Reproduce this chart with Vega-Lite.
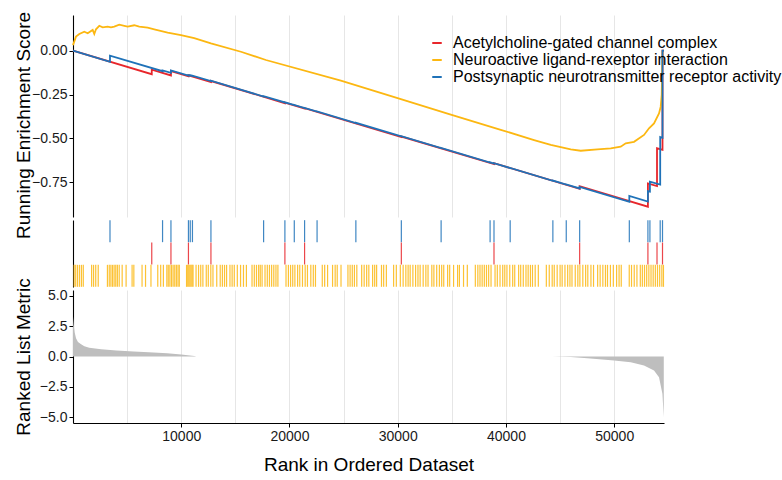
{
  "$schema": "https://vega.github.io/schema/vega-lite/v6.json",
  "padding": {"left": 13, "top": 11, "right": 0, "bottom": 5},
  "bounds": "flush",
  "spacing": 3,
  "config": {
    "view": {"stroke": null},
    "font": "Liberation Sans",
    "axis": {"labelFont": "Liberation Sans", "titleFont": "Liberation Sans", "labelFontSize": 14, "labelColor": "#1a1a1a", "titleFontSize": 19, "titleFontWeight": "normal", "titleColor": "black", "tickSize": 4, "labelPadding": 2, "domainColor": "black", "tickColor": "black", "domainWidth": 1.1}
  },
  "resolve": {"scale": {"color": "independent"}},
  "datasets": {
    "es": [
      {"set": "Acetylcholine-gated channel complex", "i": 1, "rank": 0, "es": 0},
      {"set": "Acetylcholine-gated channel complex", "i": 2, "rank": 7276, "es": -0.134},
      {"set": "Acetylcholine-gated channel complex", "i": 3, "rank": 7276, "es": -0.108},
      {"set": "Acetylcholine-gated channel complex", "i": 4, "rank": 9049, "es": -0.141},
      {"set": "Acetylcholine-gated channel complex", "i": 5, "rank": 9049, "es": -0.116},
      {"set": "Acetylcholine-gated channel complex", "i": 6, "rank": 10665, "es": -0.146},
      {"set": "Acetylcholine-gated channel complex", "i": 7, "rank": 10665, "es": -0.140},
      {"set": "Acetylcholine-gated channel complex", "i": 8, "rank": 12743, "es": -0.178},
      {"set": "Acetylcholine-gated channel complex", "i": 9, "rank": 12743, "es": -0.173},
      {"set": "Acetylcholine-gated channel complex", "i": 10, "rank": 19576, "es": -0.299},
      {"set": "Acetylcholine-gated channel complex", "i": 11, "rank": 19576, "es": -0.296},
      {"set": "Acetylcholine-gated channel complex", "i": 12, "rank": 21395, "es": -0.329},
      {"set": "Acetylcholine-gated channel complex", "i": 13, "rank": 21395, "es": -0.327},
      {"set": "Acetylcholine-gated channel complex", "i": 14, "rank": 30334, "es": -0.492},
      {"set": "Acetylcholine-gated channel complex", "i": 15, "rank": 30334, "es": -0.489},
      {"set": "Acetylcholine-gated channel complex", "i": 16, "rank": 38894, "es": -0.646},
      {"set": "Acetylcholine-gated channel complex", "i": 17, "rank": 38894, "es": -0.641},
      {"set": "Acetylcholine-gated channel complex", "i": 18, "rank": 46807, "es": -0.787},
      {"set": "Acetylcholine-gated channel complex", "i": 19, "rank": 46807, "es": -0.772},
      {"set": "Acetylcholine-gated channel complex", "i": 20, "rank": 53114, "es": -0.889},
      {"set": "Acetylcholine-gated channel complex", "i": 21, "rank": 53114, "es": -0.756},
      {"set": "Acetylcholine-gated channel complex", "i": 22, "rank": 53954, "es": -0.771},
      {"set": "Acetylcholine-gated channel complex", "i": 23, "rank": 53954, "es": -0.556},
      {"set": "Acetylcholine-gated channel complex", "i": 24, "rank": 54462, "es": -0.565},
      {"set": "Acetylcholine-gated channel complex", "i": 25, "rank": 54462, "es": 0.0},
      {"set": "Acetylcholine-gated channel complex", "i": 26, "rank": 54600, "es": 0.0},
      {"set": "Neuroactive ligand-rexeptor interaction", "i": 1, "rank": 0, "es": 0.032},
      {"set": "Neuroactive ligand-rexeptor interaction", "i": 2, "rank": 277, "es": 0.080},
      {"set": "Neuroactive ligand-rexeptor interaction", "i": 3, "rank": 582, "es": 0.095},
      {"set": "Neuroactive ligand-rexeptor interaction", "i": 4, "rank": 1043, "es": 0.108},
      {"set": "Neuroactive ligand-rexeptor interaction", "i": 5, "rank": 1357, "es": 0.099},
      {"set": "Neuroactive ligand-rexeptor interaction", "i": 6, "rank": 1819, "es": 0.118},
      {"set": "Neuroactive ligand-rexeptor interaction", "i": 7, "rank": 1967, "es": 0.095},
      {"set": "Neuroactive ligand-rexeptor interaction", "i": 8, "rank": 2124, "es": 0.122},
      {"set": "Neuroactive ligand-rexeptor interaction", "i": 9, "rank": 2429, "es": 0.142},
      {"set": "Neuroactive ligand-rexeptor interaction", "i": 10, "rank": 2742, "es": 0.133},
      {"set": "Neuroactive ligand-rexeptor interaction", "i": 11, "rank": 3204, "es": 0.137},
      {"set": "Neuroactive ligand-rexeptor interaction", "i": 12, "rank": 3509, "es": 0.133},
      {"set": "Neuroactive ligand-rexeptor interaction", "i": 13, "rank": 3814, "es": 0.137},
      {"set": "Neuroactive ligand-rexeptor interaction", "i": 14, "rank": 4275, "es": 0.148},
      {"set": "Neuroactive ligand-rexeptor interaction", "i": 15, "rank": 4737, "es": 0.142},
      {"set": "Neuroactive ligand-rexeptor interaction", "i": 16, "rank": 5051, "es": 0.137},
      {"set": "Neuroactive ligand-rexeptor interaction", "i": 17, "rank": 5660, "es": 0.145},
      {"set": "Neuroactive ligand-rexeptor interaction", "i": 18, "rank": 6122, "es": 0.137},
      {"set": "Neuroactive ligand-rexeptor interaction", "i": 19, "rank": 6898, "es": 0.131},
      {"set": "Neuroactive ligand-rexeptor interaction", "i": 20, "rank": 7507, "es": 0.122},
      {"set": "Neuroactive ligand-rexeptor interaction", "i": 21, "rank": 8745, "es": 0.103},
      {"set": "Neuroactive ligand-rexeptor interaction", "i": 22, "rank": 9973, "es": 0.089},
      {"set": "Neuroactive ligand-rexeptor interaction", "i": 23, "rank": 11201, "es": 0.071},
      {"set": "Neuroactive ligand-rexeptor interaction", "i": 24, "rank": 12743, "es": 0.042},
      {"set": "Neuroactive ligand-rexeptor interaction", "i": 25, "rank": 15513, "es": -0.006},
      {"set": "Neuroactive ligand-rexeptor interaction", "i": 26, "rank": 17822, "es": -0.053},
      {"set": "Neuroactive ligand-rexeptor interaction", "i": 27, "rank": 24747, "es": -0.171},
      {"set": "Neuroactive ligand-rexeptor interaction", "i": 28, "rank": 30288, "es": -0.276},
      {"set": "Neuroactive ligand-rexeptor interaction", "i": 29, "rank": 34904, "es": -0.364},
      {"set": "Neuroactive ligand-rexeptor interaction", "i": 30, "rank": 39520, "es": -0.451},
      {"set": "Neuroactive ligand-rexeptor interaction", "i": 31, "rank": 42597, "es": -0.509},
      {"set": "Neuroactive ligand-rexeptor interaction", "i": 32, "rank": 44139, "es": -0.537},
      {"set": "Neuroactive ligand-rexeptor interaction", "i": 33, "rank": 45985, "es": -0.562},
      {"set": "Neuroactive ligand-rexeptor interaction", "i": 34, "rank": 46909, "es": -0.570},
      {"set": "Neuroactive ligand-rexeptor interaction", "i": 35, "rank": 48450, "es": -0.562},
      {"set": "Neuroactive ligand-rexeptor interaction", "i": 36, "rank": 49679, "es": -0.556},
      {"set": "Neuroactive ligand-rexeptor interaction", "i": 37, "rank": 50602, "es": -0.547},
      {"set": "Neuroactive ligand-rexeptor interaction", "i": 38, "rank": 51064, "es": -0.528},
      {"set": "Neuroactive ligand-rexeptor interaction", "i": 39, "rank": 51830, "es": -0.519},
      {"set": "Neuroactive ligand-rexeptor interaction", "i": 40, "rank": 52754, "es": -0.480},
      {"set": "Neuroactive ligand-rexeptor interaction", "i": 41, "rank": 53216, "es": -0.442},
      {"set": "Neuroactive ligand-rexeptor interaction", "i": 42, "rank": 53677, "es": -0.414},
      {"set": "Neuroactive ligand-rexeptor interaction", "i": 43, "rank": 54139, "es": -0.357},
      {"set": "Neuroactive ligand-rexeptor interaction", "i": 44, "rank": 54296, "es": -0.319},
      {"set": "Neuroactive ligand-rexeptor interaction", "i": 45, "rank": 54389, "es": -0.252},
      {"set": "Neuroactive ligand-rexeptor interaction", "i": 46, "rank": 54462, "es": 0.0},
      {"set": "Postsynaptic neurotransmitter receptor activity", "i": 1, "rank": 0, "es": 0},
      {"set": "Postsynaptic neurotransmitter receptor activity", "i": 2, "rank": 3417, "es": -0.063},
      {"set": "Postsynaptic neurotransmitter receptor activity", "i": 3, "rank": 3417, "es": -0.028},
      {"set": "Postsynaptic neurotransmitter receptor activity", "i": 4, "rank": 8274, "es": -0.117},
      {"set": "Postsynaptic neurotransmitter receptor activity", "i": 5, "rank": 8274, "es": -0.112},
      {"set": "Postsynaptic neurotransmitter receptor activity", "i": 6, "rank": 9049, "es": -0.126},
      {"set": "Postsynaptic neurotransmitter receptor activity", "i": 7, "rank": 9049, "es": -0.112},
      {"set": "Postsynaptic neurotransmitter receptor activity", "i": 8, "rank": 10665, "es": -0.142},
      {"set": "Postsynaptic neurotransmitter receptor activity", "i": 9, "rank": 10665, "es": -0.139},
      {"set": "Postsynaptic neurotransmitter receptor activity", "i": 10, "rank": 10832, "es": -0.142},
      {"set": "Postsynaptic neurotransmitter receptor activity", "i": 11, "rank": 10832, "es": -0.140},
      {"set": "Postsynaptic neurotransmitter receptor activity", "i": 12, "rank": 11035, "es": -0.144},
      {"set": "Postsynaptic neurotransmitter receptor activity", "i": 13, "rank": 11035, "es": -0.142},
      {"set": "Postsynaptic neurotransmitter receptor activity", "i": 14, "rank": 12743, "es": -0.173},
      {"set": "Postsynaptic neurotransmitter receptor activity", "i": 15, "rank": 12743, "es": -0.171},
      {"set": "Postsynaptic neurotransmitter receptor activity", "i": 16, "rank": 17609, "es": -0.261},
      {"set": "Postsynaptic neurotransmitter receptor activity", "i": 17, "rank": 17609, "es": -0.259},
      {"set": "Postsynaptic neurotransmitter receptor activity", "i": 18, "rank": 19576, "es": -0.295},
      {"set": "Postsynaptic neurotransmitter receptor activity", "i": 19, "rank": 19576, "es": -0.294},
      {"set": "Postsynaptic neurotransmitter receptor activity", "i": 20, "rank": 20444, "es": -0.310},
      {"set": "Postsynaptic neurotransmitter receptor activity", "i": 21, "rank": 20444, "es": -0.309},
      {"set": "Postsynaptic neurotransmitter receptor activity", "i": 22, "rank": 21395, "es": -0.327},
      {"set": "Postsynaptic neurotransmitter receptor activity", "i": 23, "rank": 21395, "es": -0.326},
      {"set": "Postsynaptic neurotransmitter receptor activity", "i": 24, "rank": 22549, "es": -0.347},
      {"set": "Postsynaptic neurotransmitter receptor activity", "i": 25, "rank": 22549, "es": -0.346},
      {"set": "Postsynaptic neurotransmitter receptor activity", "i": 26, "rank": 26132, "es": -0.412},
      {"set": "Postsynaptic neurotransmitter receptor activity", "i": 27, "rank": 26132, "es": -0.411},
      {"set": "Postsynaptic neurotransmitter receptor activity", "i": 28, "rank": 30334, "es": -0.488},
      {"set": "Postsynaptic neurotransmitter receptor activity", "i": 29, "rank": 30334, "es": -0.487},
      {"set": "Postsynaptic neurotransmitter receptor activity", "i": 30, "rank": 34009, "es": -0.555},
      {"set": "Postsynaptic neurotransmitter receptor activity", "i": 31, "rank": 34009, "es": -0.554},
      {"set": "Postsynaptic neurotransmitter receptor activity", "i": 32, "rank": 38533, "es": -0.637},
      {"set": "Postsynaptic neurotransmitter receptor activity", "i": 33, "rank": 38533, "es": -0.636},
      {"set": "Postsynaptic neurotransmitter receptor activity", "i": 34, "rank": 38894, "es": -0.643},
      {"set": "Postsynaptic neurotransmitter receptor activity", "i": 35, "rank": 38894, "es": -0.641},
      {"set": "Postsynaptic neurotransmitter receptor activity", "i": 36, "rank": 40389, "es": -0.669},
      {"set": "Postsynaptic neurotransmitter receptor activity", "i": 37, "rank": 40389, "es": -0.668},
      {"set": "Postsynaptic neurotransmitter receptor activity", "i": 38, "rank": 44333, "es": -0.741},
      {"set": "Postsynaptic neurotransmitter receptor activity", "i": 39, "rank": 44333, "es": -0.740},
      {"set": "Postsynaptic neurotransmitter receptor activity", "i": 40, "rank": 45570, "es": -0.763},
      {"set": "Postsynaptic neurotransmitter receptor activity", "i": 41, "rank": 45570, "es": -0.762},
      {"set": "Postsynaptic neurotransmitter receptor activity", "i": 42, "rank": 46807, "es": -0.785},
      {"set": "Postsynaptic neurotransmitter receptor activity", "i": 43, "rank": 46807, "es": -0.776},
      {"set": "Postsynaptic neurotransmitter receptor activity", "i": 44, "rank": 51396, "es": -0.861},
      {"set": "Postsynaptic neurotransmitter receptor activity", "i": 45, "rank": 51396, "es": -0.828},
      {"set": "Postsynaptic neurotransmitter receptor activity", "i": 46, "rank": 53114, "es": -0.860},
      {"set": "Postsynaptic neurotransmitter receptor activity", "i": 47, "rank": 53114, "es": -0.800},
      {"set": "Postsynaptic neurotransmitter receptor activity", "i": 48, "rank": 53299, "es": -0.803},
      {"set": "Postsynaptic neurotransmitter receptor activity", "i": 49, "rank": 53299, "es": -0.746},
      {"set": "Postsynaptic neurotransmitter receptor activity", "i": 50, "rank": 54249, "es": -0.763},
      {"set": "Postsynaptic neurotransmitter receptor activity", "i": 51, "rank": 54249, "es": -0.492},
      {"set": "Postsynaptic neurotransmitter receptor activity", "i": 52, "rank": 54462, "es": -0.496},
      {"set": "Postsynaptic neurotransmitter receptor activity", "i": 53, "rank": 54462, "es": 0.0},
      {"set": "Postsynaptic neurotransmitter receptor activity", "i": 54, "rank": 54600, "es": 0.0}
    ],
    "hits": [
      {"set": "Postsynaptic neurotransmitter receptor activity", "rank": 3417},
      {"set": "Postsynaptic neurotransmitter receptor activity", "rank": 8274},
      {"set": "Postsynaptic neurotransmitter receptor activity", "rank": 9049},
      {"set": "Postsynaptic neurotransmitter receptor activity", "rank": 10665},
      {"set": "Postsynaptic neurotransmitter receptor activity", "rank": 10832},
      {"set": "Postsynaptic neurotransmitter receptor activity", "rank": 11035},
      {"set": "Postsynaptic neurotransmitter receptor activity", "rank": 12743},
      {"set": "Postsynaptic neurotransmitter receptor activity", "rank": 17609},
      {"set": "Postsynaptic neurotransmitter receptor activity", "rank": 19576},
      {"set": "Postsynaptic neurotransmitter receptor activity", "rank": 20444},
      {"set": "Postsynaptic neurotransmitter receptor activity", "rank": 21395},
      {"set": "Postsynaptic neurotransmitter receptor activity", "rank": 22549},
      {"set": "Postsynaptic neurotransmitter receptor activity", "rank": 26132},
      {"set": "Postsynaptic neurotransmitter receptor activity", "rank": 30334},
      {"set": "Postsynaptic neurotransmitter receptor activity", "rank": 34009},
      {"set": "Postsynaptic neurotransmitter receptor activity", "rank": 38533},
      {"set": "Postsynaptic neurotransmitter receptor activity", "rank": 38894},
      {"set": "Postsynaptic neurotransmitter receptor activity", "rank": 40389},
      {"set": "Postsynaptic neurotransmitter receptor activity", "rank": 44333},
      {"set": "Postsynaptic neurotransmitter receptor activity", "rank": 45570},
      {"set": "Postsynaptic neurotransmitter receptor activity", "rank": 46807},
      {"set": "Postsynaptic neurotransmitter receptor activity", "rank": 51396},
      {"set": "Postsynaptic neurotransmitter receptor activity", "rank": 53114},
      {"set": "Postsynaptic neurotransmitter receptor activity", "rank": 53299},
      {"set": "Postsynaptic neurotransmitter receptor activity", "rank": 54249},
      {"set": "Postsynaptic neurotransmitter receptor activity", "rank": 54462},
      {"set": "Acetylcholine-gated channel complex", "rank": 7276},
      {"set": "Acetylcholine-gated channel complex", "rank": 9049},
      {"set": "Acetylcholine-gated channel complex", "rank": 10665},
      {"set": "Acetylcholine-gated channel complex", "rank": 12743},
      {"set": "Acetylcholine-gated channel complex", "rank": 19576},
      {"set": "Acetylcholine-gated channel complex", "rank": 21395},
      {"set": "Acetylcholine-gated channel complex", "rank": 30334},
      {"set": "Acetylcholine-gated channel complex", "rank": 38894},
      {"set": "Acetylcholine-gated channel complex", "rank": 46807},
      {"set": "Acetylcholine-gated channel complex", "rank": 53114},
      {"set": "Acetylcholine-gated channel complex", "rank": 53954},
      {"set": "Acetylcholine-gated channel complex", "rank": 54462},
      {"set": "Neuroactive ligand-rexeptor interaction", "rank": 100},
      {"set": "Neuroactive ligand-rexeptor interaction", "rank": 250},
      {"set": "Neuroactive ligand-rexeptor interaction", "rank": 420},
      {"set": "Neuroactive ligand-rexeptor interaction", "rank": 600},
      {"set": "Neuroactive ligand-rexeptor interaction", "rank": 780},
      {"set": "Neuroactive ligand-rexeptor interaction", "rank": 950},
      {"set": "Neuroactive ligand-rexeptor interaction", "rank": 1720},
      {"set": "Neuroactive ligand-rexeptor interaction", "rank": 1900},
      {"set": "Neuroactive ligand-rexeptor interaction", "rank": 2100},
      {"set": "Neuroactive ligand-rexeptor interaction", "rank": 2330},
      {"set": "Neuroactive ligand-rexeptor interaction", "rank": 3180},
      {"set": "Neuroactive ligand-rexeptor interaction", "rank": 3350},
      {"set": "Neuroactive ligand-rexeptor interaction", "rank": 3500},
      {"set": "Neuroactive ligand-rexeptor interaction", "rank": 3650},
      {"set": "Neuroactive ligand-rexeptor interaction", "rank": 3800},
      {"set": "Neuroactive ligand-rexeptor interaction", "rank": 3950},
      {"set": "Neuroactive ligand-rexeptor interaction", "rank": 4100},
      {"set": "Neuroactive ligand-rexeptor interaction", "rank": 4270},
      {"set": "Neuroactive ligand-rexeptor interaction", "rank": 4542},
      {"set": "Neuroactive ligand-rexeptor interaction", "rank": 4906},
      {"set": "Neuroactive ligand-rexeptor interaction", "rank": 5460},
      {"set": "Neuroactive ligand-rexeptor interaction", "rank": 5620},
      {"set": "Neuroactive ligand-rexeptor interaction", "rank": 6380},
      {"set": "Neuroactive ligand-rexeptor interaction", "rank": 6700},
      {"set": "Neuroactive ligand-rexeptor interaction", "rank": 7203},
      {"set": "Neuroactive ligand-rexeptor interaction", "rank": 7830},
      {"set": "Neuroactive ligand-rexeptor interaction", "rank": 8100},
      {"set": "Neuroactive ligand-rexeptor interaction", "rank": 8350},
      {"set": "Neuroactive ligand-rexeptor interaction", "rank": 8670},
      {"set": "Neuroactive ligand-rexeptor interaction", "rank": 8800},
      {"set": "Neuroactive ligand-rexeptor interaction", "rank": 8950},
      {"set": "Neuroactive ligand-rexeptor interaction", "rank": 9100},
      {"set": "Neuroactive ligand-rexeptor interaction", "rank": 9250},
      {"set": "Neuroactive ligand-rexeptor interaction", "rank": 9400},
      {"set": "Neuroactive ligand-rexeptor interaction", "rank": 9550},
      {"set": "Neuroactive ligand-rexeptor interaction", "rank": 9700},
      {"set": "Neuroactive ligand-rexeptor interaction", "rank": 9820},
      {"set": "Neuroactive ligand-rexeptor interaction", "rank": 10490},
      {"set": "Neuroactive ligand-rexeptor interaction", "rank": 10600},
      {"set": "Neuroactive ligand-rexeptor interaction", "rank": 10700},
      {"set": "Neuroactive ligand-rexeptor interaction", "rank": 10800},
      {"set": "Neuroactive ligand-rexeptor interaction", "rank": 10900},
      {"set": "Neuroactive ligand-rexeptor interaction", "rank": 11000},
      {"set": "Neuroactive ligand-rexeptor interaction", "rank": 11090},
      {"set": "Neuroactive ligand-rexeptor interaction", "rank": 11370},
      {"set": "Neuroactive ligand-rexeptor interaction", "rank": 11600},
      {"set": "Neuroactive ligand-rexeptor interaction", "rank": 11800},
      {"set": "Neuroactive ligand-rexeptor interaction", "rank": 12000},
      {"set": "Neuroactive ligand-rexeptor interaction", "rank": 12310},
      {"set": "Neuroactive ligand-rexeptor interaction", "rank": 12500},
      {"set": "Neuroactive ligand-rexeptor interaction", "rank": 12730},
      {"set": "Neuroactive ligand-rexeptor interaction", "rank": 12930},
      {"set": "Neuroactive ligand-rexeptor interaction", "rank": 13280},
      {"set": "Neuroactive ligand-rexeptor interaction", "rank": 13600},
      {"set": "Neuroactive ligand-rexeptor interaction", "rank": 13800},
      {"set": "Neuroactive ligand-rexeptor interaction", "rank": 14000},
      {"set": "Neuroactive ligand-rexeptor interaction", "rank": 14190},
      {"set": "Neuroactive ligand-rexeptor interaction", "rank": 14500},
      {"set": "Neuroactive ligand-rexeptor interaction", "rank": 14700},
      {"set": "Neuroactive ligand-rexeptor interaction", "rank": 14900},
      {"set": "Neuroactive ligand-rexeptor interaction", "rank": 15180},
      {"set": "Neuroactive ligand-rexeptor interaction", "rank": 15480},
      {"set": "Neuroactive ligand-rexeptor interaction", "rank": 15750},
      {"set": "Neuroactive ligand-rexeptor interaction", "rank": 16020},
      {"set": "Neuroactive ligand-rexeptor interaction", "rank": 16540},
      {"set": "Neuroactive ligand-rexeptor interaction", "rank": 16750},
      {"set": "Neuroactive ligand-rexeptor interaction", "rank": 16950},
      {"set": "Neuroactive ligand-rexeptor interaction", "rank": 17150},
      {"set": "Neuroactive ligand-rexeptor interaction", "rank": 17300},
      {"set": "Neuroactive ligand-rexeptor interaction", "rank": 17470},
      {"set": "Neuroactive ligand-rexeptor interaction", "rank": 17740},
      {"set": "Neuroactive ligand-rexeptor interaction", "rank": 17950},
      {"set": "Neuroactive ligand-rexeptor interaction", "rank": 18150},
      {"set": "Neuroactive ligand-rexeptor interaction", "rank": 18350},
      {"set": "Neuroactive ligand-rexeptor interaction", "rank": 18550},
      {"set": "Neuroactive ligand-rexeptor interaction", "rank": 18750},
      {"set": "Neuroactive ligand-rexeptor interaction", "rank": 18930},
      {"set": "Neuroactive ligand-rexeptor interaction", "rank": 19680},
      {"set": "Neuroactive ligand-rexeptor interaction", "rank": 19900},
      {"set": "Neuroactive ligand-rexeptor interaction", "rank": 20100},
      {"set": "Neuroactive ligand-rexeptor interaction", "rank": 20300},
      {"set": "Neuroactive ligand-rexeptor interaction", "rank": 20500},
      {"set": "Neuroactive ligand-rexeptor interaction", "rank": 20750},
      {"set": "Neuroactive ligand-rexeptor interaction", "rank": 20950},
      {"set": "Neuroactive ligand-rexeptor interaction", "rank": 21200},
      {"set": "Neuroactive ligand-rexeptor interaction", "rank": 21450},
      {"set": "Neuroactive ligand-rexeptor interaction", "rank": 21660},
      {"set": "Neuroactive ligand-rexeptor interaction", "rank": 21970},
      {"set": "Neuroactive ligand-rexeptor interaction", "rank": 22200},
      {"set": "Neuroactive ligand-rexeptor interaction", "rank": 22400},
      {"set": "Neuroactive ligand-rexeptor interaction", "rank": 23030},
      {"set": "Neuroactive ligand-rexeptor interaction", "rank": 23250},
      {"set": "Neuroactive ligand-rexeptor interaction", "rank": 23520},
      {"set": "Neuroactive ligand-rexeptor interaction", "rank": 23980},
      {"set": "Neuroactive ligand-rexeptor interaction", "rank": 24220},
      {"set": "Neuroactive ligand-rexeptor interaction", "rank": 24410},
      {"set": "Neuroactive ligand-rexeptor interaction", "rank": 24760},
      {"set": "Neuroactive ligand-rexeptor interaction", "rank": 25400},
      {"set": "Neuroactive ligand-rexeptor interaction", "rank": 25600},
      {"set": "Neuroactive ligand-rexeptor interaction", "rank": 25800},
      {"set": "Neuroactive ligand-rexeptor interaction", "rank": 26000},
      {"set": "Neuroactive ligand-rexeptor interaction", "rank": 26220},
      {"set": "Neuroactive ligand-rexeptor interaction", "rank": 26670},
      {"set": "Neuroactive ligand-rexeptor interaction", "rank": 26900},
      {"set": "Neuroactive ligand-rexeptor interaction", "rank": 27130},
      {"set": "Neuroactive ligand-rexeptor interaction", "rank": 27330},
      {"set": "Neuroactive ligand-rexeptor interaction", "rank": 27680},
      {"set": "Neuroactive ligand-rexeptor interaction", "rank": 27870},
      {"set": "Neuroactive ligand-rexeptor interaction", "rank": 28050},
      {"set": "Neuroactive ligand-rexeptor interaction", "rank": 28500},
      {"set": "Neuroactive ligand-rexeptor interaction", "rank": 28700},
      {"set": "Neuroactive ligand-rexeptor interaction", "rank": 28950},
      {"set": "Neuroactive ligand-rexeptor interaction", "rank": 29620},
      {"set": "Neuroactive ligand-rexeptor interaction", "rank": 29870},
      {"set": "Neuroactive ligand-rexeptor interaction", "rank": 30240},
      {"set": "Neuroactive ligand-rexeptor interaction", "rank": 30500},
      {"set": "Neuroactive ligand-rexeptor interaction", "rank": 30750},
      {"set": "Neuroactive ligand-rexeptor interaction", "rank": 30960},
      {"set": "Neuroactive ligand-rexeptor interaction", "rank": 31150},
      {"set": "Neuroactive ligand-rexeptor interaction", "rank": 31400},
      {"set": "Neuroactive ligand-rexeptor interaction", "rank": 31650},
      {"set": "Neuroactive ligand-rexeptor interaction", "rank": 31870},
      {"set": "Neuroactive ligand-rexeptor interaction", "rank": 32070},
      {"set": "Neuroactive ligand-rexeptor interaction", "rank": 32350},
      {"set": "Neuroactive ligand-rexeptor interaction", "rank": 32600},
      {"set": "Neuroactive ligand-rexeptor interaction", "rank": 32800},
      {"set": "Neuroactive ligand-rexeptor interaction", "rank": 33150},
      {"set": "Neuroactive ligand-rexeptor interaction", "rank": 33340},
      {"set": "Neuroactive ligand-rexeptor interaction", "rank": 33600},
      {"set": "Neuroactive ligand-rexeptor interaction", "rank": 33850},
      {"set": "Neuroactive ligand-rexeptor interaction", "rank": 34060},
      {"set": "Neuroactive ligand-rexeptor interaction", "rank": 34250},
      {"set": "Neuroactive ligand-rexeptor interaction", "rank": 34610},
      {"set": "Neuroactive ligand-rexeptor interaction", "rank": 34800},
      {"set": "Neuroactive ligand-rexeptor interaction", "rank": 35160},
      {"set": "Neuroactive ligand-rexeptor interaction", "rank": 35530},
      {"set": "Neuroactive ligand-rexeptor interaction", "rank": 35700},
      {"set": "Neuroactive ligand-rexeptor interaction", "rank": 36080},
      {"set": "Neuroactive ligand-rexeptor interaction", "rank": 36430},
      {"set": "Neuroactive ligand-rexeptor interaction", "rank": 37170},
      {"set": "Neuroactive ligand-rexeptor interaction", "rank": 37400},
      {"set": "Neuroactive ligand-rexeptor interaction", "rank": 37600},
      {"set": "Neuroactive ligand-rexeptor interaction", "rank": 37800},
      {"set": "Neuroactive ligand-rexeptor interaction", "rank": 38000},
      {"set": "Neuroactive ligand-rexeptor interaction", "rank": 38200},
      {"set": "Neuroactive ligand-rexeptor interaction", "rank": 38400},
      {"set": "Neuroactive ligand-rexeptor interaction", "rank": 38620},
      {"set": "Neuroactive ligand-rexeptor interaction", "rank": 38990},
      {"set": "Neuroactive ligand-rexeptor interaction", "rank": 39200},
      {"set": "Neuroactive ligand-rexeptor interaction", "rank": 39450},
      {"set": "Neuroactive ligand-rexeptor interaction", "rank": 39700},
      {"set": "Neuroactive ligand-rexeptor interaction", "rank": 39890},
      {"set": "Neuroactive ligand-rexeptor interaction", "rank": 40090},
      {"set": "Neuroactive ligand-rexeptor interaction", "rank": 40350},
      {"set": "Neuroactive ligand-rexeptor interaction", "rank": 40620},
      {"set": "Neuroactive ligand-rexeptor interaction", "rank": 40810},
      {"set": "Neuroactive ligand-rexeptor interaction", "rank": 41170},
      {"set": "Neuroactive ligand-rexeptor interaction", "rank": 41360},
      {"set": "Neuroactive ligand-rexeptor interaction", "rank": 41600},
      {"set": "Neuroactive ligand-rexeptor interaction", "rank": 41850},
      {"set": "Neuroactive ligand-rexeptor interaction", "rank": 42050},
      {"set": "Neuroactive ligand-rexeptor interaction", "rank": 42260},
      {"set": "Neuroactive ligand-rexeptor interaction", "rank": 42450},
      {"set": "Neuroactive ligand-rexeptor interaction", "rank": 42700},
      {"set": "Neuroactive ligand-rexeptor interaction", "rank": 42990},
      {"set": "Neuroactive ligand-rexeptor interaction", "rank": 43730},
      {"set": "Neuroactive ligand-rexeptor interaction", "rank": 44000},
      {"set": "Neuroactive ligand-rexeptor interaction", "rank": 44270},
      {"set": "Neuroactive ligand-rexeptor interaction", "rank": 44460},
      {"set": "Neuroactive ligand-rexeptor interaction", "rank": 44730},
      {"set": "Neuroactive ligand-rexeptor interaction", "rank": 45000},
      {"set": "Neuroactive ligand-rexeptor interaction", "rank": 45190},
      {"set": "Neuroactive ligand-rexeptor interaction", "rank": 45450},
      {"set": "Neuroactive ligand-rexeptor interaction", "rank": 45700},
      {"set": "Neuroactive ligand-rexeptor interaction", "rank": 45910},
      {"set": "Neuroactive ligand-rexeptor interaction", "rank": 46100},
      {"set": "Neuroactive ligand-rexeptor interaction", "rank": 46400},
      {"set": "Neuroactive ligand-rexeptor interaction", "rank": 46640},
      {"set": "Neuroactive ligand-rexeptor interaction", "rank": 46830},
      {"set": "Neuroactive ligand-rexeptor interaction", "rank": 47100},
      {"set": "Neuroactive ligand-rexeptor interaction", "rank": 47360},
      {"set": "Neuroactive ligand-rexeptor interaction", "rank": 47560},
      {"set": "Neuroactive ligand-rexeptor interaction", "rank": 47850},
      {"set": "Neuroactive ligand-rexeptor interaction", "rank": 48090},
      {"set": "Neuroactive ligand-rexeptor interaction", "rank": 48470},
      {"set": "Neuroactive ligand-rexeptor interaction", "rank": 48700},
      {"set": "Neuroactive ligand-rexeptor interaction", "rank": 48950},
      {"set": "Neuroactive ligand-rexeptor interaction", "rank": 49190},
      {"set": "Neuroactive ligand-rexeptor interaction", "rank": 49380},
      {"set": "Neuroactive ligand-rexeptor interaction", "rank": 49650},
      {"set": "Neuroactive ligand-rexeptor interaction", "rank": 49920},
      {"set": "Neuroactive ligand-rexeptor interaction", "rank": 50220},
      {"set": "Neuroactive ligand-rexeptor interaction", "rank": 50450},
      {"set": "Neuroactive ligand-rexeptor interaction", "rank": 50650},
      {"set": "Neuroactive ligand-rexeptor interaction", "rank": 51390},
      {"set": "Neuroactive ligand-rexeptor interaction", "rank": 51600},
      {"set": "Neuroactive ligand-rexeptor interaction", "rank": 51850},
      {"set": "Neuroactive ligand-rexeptor interaction", "rank": 52100},
      {"set": "Neuroactive ligand-rexeptor interaction", "rank": 52410},
      {"set": "Neuroactive ligand-rexeptor interaction", "rank": 52600},
      {"set": "Neuroactive ligand-rexeptor interaction", "rank": 52800},
      {"set": "Neuroactive ligand-rexeptor interaction", "rank": 53000},
      {"set": "Neuroactive ligand-rexeptor interaction", "rank": 53200},
      {"set": "Neuroactive ligand-rexeptor interaction", "rank": 53400},
      {"set": "Neuroactive ligand-rexeptor interaction", "rank": 53600},
      {"set": "Neuroactive ligand-rexeptor interaction", "rank": 53800},
      {"set": "Neuroactive ligand-rexeptor interaction", "rank": 54000},
      {"set": "Neuroactive ligand-rexeptor interaction", "rank": 54200},
      {"set": "Neuroactive ligand-rexeptor interaction", "rank": 54400},
      {"set": "Neuroactive ligand-rexeptor interaction", "rank": 54550}
    ],
    "metric": [
      {"rank": 0, "metric": 3.3},
      {"rank": 60, "metric": 2.6},
      {"rank": 150, "metric": 2.0},
      {"rank": 280, "metric": 1.5},
      {"rank": 460, "metric": 1.2},
      {"rank": 750, "metric": 1.0},
      {"rank": 1050, "metric": 0.85},
      {"rank": 1500, "metric": 0.72},
      {"rank": 2600, "metric": 0.6},
      {"rank": 4000, "metric": 0.5},
      {"rank": 5600, "metric": 0.42},
      {"rank": 7000, "metric": 0.35},
      {"rank": 8700, "metric": 0.26},
      {"rank": 10000, "metric": 0.17},
      {"rank": 11200, "metric": 0.05},
      {"rank": 11400, "metric": 0},
      {"rank": 44296, "metric": 0},
      {"rank": 45985, "metric": -0.05},
      {"rank": 47527, "metric": -0.14},
      {"rank": 49984, "metric": -0.33},
      {"rank": 51526, "metric": -0.47},
      {"rank": 52754, "metric": -0.74},
      {"rank": 53677, "metric": -1.15},
      {"rank": 54139, "metric": -1.70},
      {"rank": 54453, "metric": -3.07},
      {"rank": 54580, "metric": -5.0}
    ]
  },
  "vconcat": [
    {
      "width": 591,
      "height": 202,
      "data": {"name": "es"},
      "mark": {"type": "line", "strokeWidth": 1.8},
      "encoding": {
        "x": {"field": "rank", "type": "quantitative", "scale": {"domain": [0, 54600], "nice": false, "zero": false},
          "axis": {"values": [5000, 10000, 15000, 20000, 25000, 30000, 35000, 40000, 45000, 50000], "grid": true, "gridColor": "#E6E6E6", "labels": false, "ticks": false, "domain": false, "title": null}},
        "y": {"field": "es", "type": "quantitative", "scale": {"domain": [-0.9476, 0.2034], "nice": false, "zero": false},
          "axis": {"values": [-0.75, -0.5, -0.25, 0], "format": ".2f", "grid": false, "title": "Running Enrichment Score", "titleX": -50, "titleY": 110, "titleBaseline": "middle"}},
        "color": {"field": "set", "type": "nominal",
          "scale": {"domain": ["Acetylcholine-gated channel complex", "Neuroactive ligand-rexeptor interaction", "Postsynaptic neurotransmitter receptor activity"], "range": ["#E8262B", "#FCB711", "#1F72B8"]},
          "legend": {"title": null, "orient": "none", "legendX": 356, "legendY": 20, "symbolType": "stroke", "symbolSize": 90, "symbolStrokeWidth": 2, "labelFontSize": 16, "labelFont": "Liberation Sans", "labelColor": "black", "labelOffset": 8, "rowPadding": 1, "padding": 0, "labelLimit": 400}},
        "order": {"field": "i", "type": "quantitative"}
      }
    },
    {
      "width": 591,
      "height": 67,
      "data": {"name": "hits"},
      "mark": {"type": "tick", "thickness": 1.2, "size": 22, "opacity": 0.85},
      "encoding": {
        "x": {"field": "rank", "type": "quantitative", "scale": {"domain": [0, 54600], "nice": false, "zero": false}, "axis": null},
        "y": {"field": "set", "type": "nominal",
          "scale": {"domain": ["Postsynaptic neurotransmitter receptor activity", "Acetylcholine-gated channel complex", "Neuroactive ligand-rexeptor interaction"], "paddingInner": 0, "paddingOuter": 0},
          "axis": {"labels": false, "ticks": false, "title": null, "grid": false}},
        "color": {"field": "set", "type": "nominal",
          "scale": {"domain": ["Acetylcholine-gated channel complex", "Neuroactive ligand-rexeptor interaction", "Postsynaptic neurotransmitter receptor activity"], "range": ["#E8262B", "#FCB711", "#1F72B8"]},
          "legend": null}
      }
    },
    {
      "width": 591,
      "height": 133,
      "data": {"name": "metric"},
      "mark": {"type": "area", "color": "#BEBEBE"},
      "encoding": {
        "x": {"field": "rank", "type": "quantitative", "scale": {"domain": [0, 54600], "nice": false, "zero": false},
          "axis": {"values": [5000, 10000, 15000, 20000, 25000, 30000, 35000, 40000, 45000, 50000], "format": "d",
            "labelExpr": "datum.value % 10000 === 0 ? datum.label : ''",
            "tickColor": {"condition": {"test": "datum.value % 10000 === 0", "value": "black"}, "value": "transparent"},
            "grid": true, "gridColor": "#E6E6E6", "title": "Rank in Ordered Dataset", "titlePadding": 12}},
        "y": {"field": "metric", "type": "quantitative", "scale": {"domain": [-5.48, 5.48], "nice": false},
          "axis": {"values": [-5, -2.5, 0, 2.5, 5], "format": ".1f", "grid": false, "title": "Ranked List Metric", "titleX": -50, "titleBaseline": "middle"}}
      }
    }
  ]
}
